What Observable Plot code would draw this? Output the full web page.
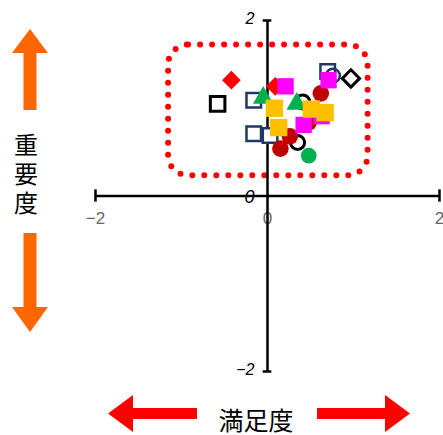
<!DOCTYPE html>
<html><head><meta charset="utf-8">
<script src="https://cdn.jsdelivr.net/npm/d3@7"></script>
<script src="https://cdn.jsdelivr.net/npm/@observablehq/plot@0.6"></script>
<style>
body{margin:0;background:#fff;}
#wrap{position:relative;width:443px;height:435px;overflow:hidden;background:#fff;}
#wrap svg{position:absolute;left:0;top:0;}
</style></head><body>
<div id="wrap"></div>
<script>
// tick labels
const xTicks = [-2, 0, 2];
const yTicks = [-2, 2];
const originLabel = ["0"];
const yTitle = ["重", "要", "度"];
const xTitle = "満足度";
// highlighted region (dotted rounded box)
const boxX = [-1.15, 1.17];
const boxY = [0.23, 1.72];
// series (x = 満足度, y = 重要度)
const navySquareX = [-0.16, -0.16, 0.03, 0.70];
const navySquareY = [1.09, 0.71, 0.69, 1.42];
const blackSquareX = [-0.58];
const blackSquareY = [1.05];
const navyCircleX = [0.76];
const navyCircleY = [1.37];
const blackCircleX = [0.35, 0.41];
const blackCircleY = [0.61, 1.07];
const darkRedCircleX = [0.62, 0.15, 0.26, 0.48];
const darkRedCircleY = [1.17, 0.54, 0.68, 0.84];
const greenCircleX = [0.48];
const greenCircleY = [0.46];
const redDiamondX = [-0.42, 0.09];
const redDiamondY = [1.32, 1.25];
const greenTriangleX = [-0.05, 0.34];
const greenTriangleY = [1.12, 1.05];
const blackDiamondX = [0.97];
const blackDiamondY = [1.34];
const magentaSquareX = [0.21, 0.71, 0.42, 0.63];
const magentaSquareY = [1.25, 1.32, 0.81, 0.91];
const orangeSquareX = [0.08, 0.13, 0.51, 0.67];
const orangeSquareY = [1.00, 0.78, 0.99, 0.95];

const pts = (xs, ys) => xs.map((x, i) => ({x, y: ys[i]}));
const fmt = d => d < 0 ? "\u2212" + Math.abs(d) : String(d);
const ser = (xs, ys, o) => Plot.dot(pts(xs, ys), {x: "x", y: "y", ...o});

const chart = Plot.plot({
  width: 443, height: 435,
  marginLeft: 95, marginRight: 4, marginTop: 20, marginBottom: 64,
  x: {domain: [-2, 2], axis: null},
  y: {domain: [-2, 2], axis: null},
  style: {background: "transparent", overflow: "visible"},
  marks: [
    Plot.rect([{x1: boxX[0], x2: boxX[1], y1: boxY[0], y2: boxY[1]}], {
      x1: "x1", x2: "x2", y1: "y1", y2: "y2", fill: "none", stroke: "#ff0000",
      strokeWidth: 6, strokeDasharray: "0 12", strokeLinecap: "round", rx: 20
    }),
    Plot.text(xTicks, {x: d => d, y: 0, dy: 23, text: fmt, fill: "#666", fontSize: 17, fontFamily: "Liberation Sans"}),
    Plot.text(yTicks, {x: 0, y: d => d, dx: -13, dy: -2, textAnchor: "end", text: fmt, fill: "#000", fontSize: 16, fontStyle: "italic", fontFamily: "Liberation Sans"}),
    Plot.text(originLabel, {x: 0, y: 0, dx: -13, dy: 1, textAnchor: "end", text: d => d, fill: "#000", fontSize: 18, fontStyle: "italic", fontFamily: "Liberation Sans"}),
    Plot.ruleY([0], {x1: xTicks[0], x2: xTicks[2], stroke: "#000", strokeWidth: 2.5}),
    Plot.ruleX([0], {y1: yTicks[0], y2: yTicks[1], stroke: "#000", strokeWidth: 2.5}),
    Plot.ruleX([xTicks[0], xTicks[2]], {y1: -0.07, y2: 0.07, stroke: "#000", strokeWidth: 2.5}),
    Plot.ruleY(yTicks, {x1: -0.05, x2: 0.05, stroke: "#000", strokeWidth: 2.5}),
    ser(navySquareX, navySquareY, {symbol: "square", r: 8.2, fill: "#fff", stroke: "#1f3864", strokeWidth: 2.5}),
    ser(blackSquareX, blackSquareY, {symbol: "square", r: 8.2, fill: "#fff", stroke: "#000", strokeWidth: 3}),
    ser(navyCircleX, navyCircleY, {symbol: "circle", r: 7, fill: "none", stroke: "#1f3864", strokeWidth: 2.5}),
    ser(blackCircleX, blackCircleY, {symbol: "circle", r: 7, fill: "#fff", stroke: "#000", strokeWidth: 3}),
    ser(darkRedCircleX, darkRedCircleY, {symbol: "circle", r: 8.3, fill: "#c00000"}),
    ser(greenCircleX, greenCircleY, {symbol: "circle", r: 7.8, fill: "#00b050"}),
    ser(redDiamondX, redDiamondY, {symbol: "diamond2", r: 8.4, fill: "#ff0000"}),
    ser(greenTriangleX, greenTriangleY, {symbol: "triangle", r: 7.6, fill: "#00b050"}),
    ser(blackDiamondX, blackDiamondY, {symbol: "diamond2", r: 7.8, fill: "#fff", stroke: "#000", strokeWidth: 3}),
    ser(magentaSquareX, magentaSquareY, {symbol: "square", r: 9.2, fill: "#ff00ff"}),
    ser(orangeSquareX, orangeSquareY, {symbol: "square", r: 9.8, fill: "#ffc000"})
  ]
});
const wrap = document.getElementById("wrap");
wrap.appendChild(chart);

// decorative direction arrows and axis titles
const ns = "http://www.w3.org/2000/svg";
const deco = document.createElementNS(ns, "svg");
deco.setAttribute("width", 443); deco.setAttribute("height", 435);
deco.innerHTML = `
  <polygon fill="#ff6600" points="30,29 48,53 36.5,53 36.5,110 23.5,110 23.5,53 12,53"/>
  <polygon fill="#ff6600" points="30,332 48,307 36.5,307 36.5,233 23.5,233 23.5,307 12,307"/>
  <polygon fill="#ff0000" points="108,413.5 133,395 133,408 197,408 197,419 133,419 133,432"/>
  <polygon fill="#ff0000" points="410,413.5 385,395 385,408 317,408 317,419 385,419 385,432"/>
`;
const addText = (str, x, y, size) => {
  const t = document.createElementNS(ns, "text");
  t.setAttribute("x", x); t.setAttribute("y", y);
  t.setAttribute("text-anchor", "middle"); t.setAttribute("dominant-baseline", "central");
  t.setAttribute("font-family", "Noto Sans CJK JP"); t.setAttribute("font-size", size);
  t.setAttribute("fill", "#000");
  t.textContent = str; deco.appendChild(t);
};
yTitle.forEach((c, i) => addText(c, 26, 143 + i * 29, 24));
addText(xTitle, 256, 419, 25);
wrap.appendChild(deco);
</script>
</body></html>
